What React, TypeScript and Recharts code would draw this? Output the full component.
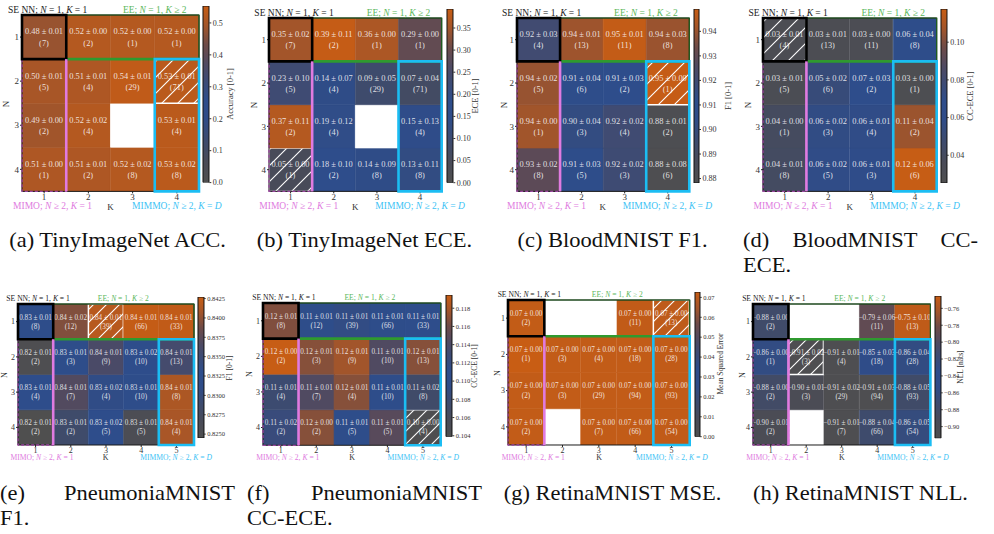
import React from 'react';
import { BarChart, Bar, XAxis, YAxis, Cell, LabelList, ReferenceArea, ReferenceLine } from 'recharts';

const SERIF = '"Liberation Serif", Tinos, "Nimbus Roman", "Noto Serif", "DejaVu Serif", "Times New Roman", Times, serif';

// ---------- categories ----------
const K4 = ['1', '2', '3', '4'];
const K5 = ['1', '2', '3', '4', '5'];
const NROWS = ['1', '2', '3', '4'];

// ---------- (a) TinyImageNet ACC ----------
const accMean = [
  [0.48, 0.52, 0.52, 0.52],
  [0.50, 0.51, 0.54, 0.53],
  [0.49, 0.52, null, 0.53],
  [0.51, 0.51, 0.52, 0.53],
];
const accStd = [
  [0.01, 0.00, 0.00, 0.00],
  [0.01, 0.01, 0.01, 0.01],
  [0.00, 0.02, null, 0.01],
  [0.00, 0.01, 0.02, 0.02],
];
const accCount = [
  [7, 2, 1, 1],
  [5, 4, 29, 71],
  [2, 4, null, 4],
  [1, 2, 8, 8],
];
const accDomain = [0, 0.553];
const accTicks = [0, 0.1, 0.2, 0.3, 0.4, 0.5];

// ---------- (b) TinyImageNet ECE ----------
const eceMean = [
  [0.35, 0.39, 0.36, 0.29],
  [0.23, 0.14, 0.09, 0.07],
  [0.37, 0.19, null, 0.15],
  [0.05, 0.18, 0.14, 0.13],
];
const eceStd = [
  [0.02, 0.11, 0.00, 0.00],
  [0.10, 0.07, 0.05, 0.04],
  [0.11, 0.12, null, 0.13],
  [0.00, 0.10, 0.09, 0.11],
];
const eceCount = [
  [7, 2, 1, 1],
  [5, 4, 29, 71],
  [2, 4, null, 4],
  [1, 2, 8, 8],
];
const eceDomain = [0, 0.393];
const eceTicks = [0, 0.05, 0.1, 0.15, 0.2, 0.25, 0.3, 0.35];

// ---------- (c) BloodMNIST F1 ----------
const bF1Mean = [
  [0.9205, 0.9405, 0.9480, 0.9400],
  [0.9395, 0.9100, 0.9105, 0.9485],
  [0.9410, 0.9015, 0.9200, 0.8810],
  [0.9290, 0.9095, 0.9195, 0.8800],
];
const bF1Std = [
  [0.03, 0.01, 0.01, 0.03],
  [0.02, 0.04, 0.03, 0.00],
  [0.00, 0.04, 0.02, 0.01],
  [0.02, 0.03, 0.02, 0.08],
];
const bF1Count = [
  [4, 13, 11, 8],
  [5, 6, 2, 1],
  [1, 3, 4, 2],
  [8, 5, 3, 6],
];
const bF1Domain = [0.8782, 0.9491];
const bF1Ticks = [0.88, 0.89, 0.9, 0.91, 0.92, 0.93, 0.94];

// ---------- (d) BloodMNIST CC-ECE ----------
const bCCMean = [
  [0.030, 0.030, 0.031, 0.064],
  [0.032, 0.052, 0.068, 0.029],
  [0.040, 0.057, 0.058, 0.106],
  [0.041, 0.058, 0.063, 0.117],
];
const bCCStd = [
  [0.01, 0.01, 0.00, 0.04],
  [0.01, 0.02, 0.03, 0.00],
  [0.00, 0.02, 0.01, 0.04],
  [0.01, 0.02, 0.01, 0.06],
];
const bCCCount = [
  [4, 13, 11, 8],
  [5, 6, 2, 1],
  [1, 3, 4, 2],
  [8, 5, 3, 6],
];
const bCCDomain = [0.0253, 0.1176];
const bCCTicks = [0.04, 0.06, 0.08, 0.1];

// ---------- (e) PneumoniaMNIST F1 ----------
const pF1Mean = [
  [0.8325, 0.8394, 0.8418, 0.8425, 0.8423],
  [0.8249, 0.8327, 0.8362, 0.8330, 0.8357],
  [0.8330, 0.8369, 0.8309, 0.8327, 0.8412],
  [0.8246, 0.8285, 0.8328, 0.8256, 0.8410],
];
const pF1Std = [
  [0.01, 0.02, 0.01, 0.01, 0.01],
  [0.01, 0.01, 0.01, 0.02, 0.01],
  [0.01, 0.01, 0.02, 0.01, 0.01],
  [0.01, 0.01, 0.02, 0.01, 0.01],
];
const pCount = [
  [8, 12, 39, 66, 33],
  [2, 3, 9, 10, 13],
  [4, 7, 4, 10, 8],
  [2, 2, 5, 5, 4],
];
const pF1Domain = [0.8245, 0.8427];
const pF1Ticks = [0.825, 0.8275, 0.83, 0.8325, 0.835, 0.8375, 0.84, 0.8425];

// ---------- (f) PneumoniaMNIST CC-ECE ----------
const pCCMean = [
  [0.1166, 0.1108, 0.1117, 0.1108, 0.1110],
  [0.1194, 0.1168, 0.1177, 0.1144, 0.1168],
  [0.1078, 0.1144, 0.1168, 0.1108, 0.1072],
  [0.1124, 0.1168, 0.1108, 0.1148, 0.1042],
];
const pCCStd = [
  [0.01, 0.01, 0.01, 0.01, 0.01],
  [0.00, 0.01, 0.01, 0.01, 0.01],
  [0.01, 0.01, 0.01, 0.01, 0.02],
  [0.02, 0.00, 0.01, 0.01, 0.00],
];
const pCCDomain = [0.1039, 0.11945];
const pCCTicks = [0.104, 0.106, 0.108, 0.11, 0.112, 0.114, 0.116, 0.118];

// ---------- (g) RetinaMNIST MSE ----------
const rMSEMean = [
  [0.0715, null, null, 0.0712, 0.0705],
  [0.0727, 0.0713, 0.0714, 0.0713, 0.0712],
  [0.0714, 0.0713, 0.0713, 0.0713, 0.0712],
  [0.0713, null, 0.0713, 0.0713, 0.0712],
];
const rMSEStd = [
  [0.00, null, null, 0.00, 0.00],
  [0.00, 0.00, 0.00, 0.00, 0.00],
  [0.00, 0.00, 0.00, 0.00, 0.00],
  [0.00, null, 0.00, 0.00, 0.00],
];
const rCount = [
  [2, null, null, 11, 13],
  [1, 3, 4, 18, 28],
  [2, 3, 29, 94, 93],
  [2, null, 7, 66, 54],
];
const rMSEDomain = [0, 0.0727];
const rMSETicks = [0, 0.01, 0.02, 0.03, 0.04, 0.05, 0.06, 0.07];

// ---------- (h) RetinaMNIST NLL ----------
const rNLLMean = [
  [-0.878, null, null, -0.790, -0.750],
  [-0.857, -0.910, -0.910, -0.852, -0.858],
  [-0.881, -0.900, -0.910, -0.910, -0.879],
  [-0.900, null, -0.910, -0.875, -0.862],
];
const rNLLStd = [
  [0.00, null, null, 0.06, 0.10],
  [0.00, 0.02, 0.01, 0.03, 0.04],
  [0.00, 0.01, 0.02, 0.03, 0.05],
  [0.01, null, 0.01, 0.04, 0.05],
];
const rNLLDomain = [-0.9138, -0.7454];
const rNLLTicks = [-0.9, -0.88, -0.86, -0.84, -0.82, -0.8, -0.78, -0.76];

// ---------- colour map ----------
const STOPS: [number, string][] = [
  [0.0, '#4f4f4f'],
  [0.12, '#494b58'],
  [0.25, '#3c4b70'],
  [0.36, '#2f4c88'],
  [0.47, '#2e4d8b'],
  [0.57, '#3c4b76'],
  [0.67, '#4f4a62'],
  [0.78, '#6e4b48'],
  [0.89, '#a3552a'],
  [1.0, '#c85d14'],
];
const hex = (h: string) => [1, 3, 5].map((i) => parseInt(h.slice(i, i + 2), 16));
function cmap(t: number) {
  const u = Math.max(0, Math.min(1, t));
  for (let i = 1; i < STOPS.length; i++) {
    if (u <= STOPS[i][0]) {
      const [t0, c0] = STOPS[i - 1];
      const [t1, c1] = STOPS[i];
      const f = (u - t0) / (t1 - t0);
      const a = hex(c0), b = hex(c1);
      const r = a.map((v, j) => Math.round(v + (b[j] - v) * f));
      return `rgb(${r[0]},${r[1]},${r[2]})`;
    }
  }
  return STOPS[STOPS.length - 1][1];
}

const fmtNum = (v: number, d: number) => (v < 0 ? '\u2212' + Math.abs(v).toFixed(d) : v.toFixed(d));

type Rect = { l: number; t: number; r: number; b: number };
type Panel = {
  id: string; cols: string[]; mean: (number | null)[][]; std: (number | null)[][]; count: (number | null)[][];
  hatch: [number, number]; dom: number[]; ticks: number[]; dec: number; cbLabel: string;
  plot: Rect; cb: Rect; cbdx: number; nx: number; row: number;
};

const PANELS: Panel[] = [
  { id: 'a', cols: K4, mean: accMean, std: accStd, count: accCount, hatch: [1, 3], dom: accDomain, ticks: accTicks, dec: 1, cbLabel: 'Accuracy [0-1]',
    plot: { l: 22, t: 15.3, r: 199, b: 191.7 }, cb: { l: 202.5, t: 5.7, r: 208.8, b: 182.3 }, cbdx: 21, nx: -16, row: 0 },
  { id: 'b', cols: K4, mean: eceMean, std: eceStd, count: eceCount, hatch: [3, 0], dom: eceDomain, ticks: eceTicks, dec: 2, cbLabel: 'ECE [0-1]',
    plot: { l: 269, t: 18.3, r: 441.7, b: 191.7 }, cb: { l: 446.7, t: 9.3, r: 453, b: 183 }, cbdx: 22, nx: -15, row: 0 },
  { id: 'c', cols: K4, mean: bF1Mean, std: bF1Std, count: bF1Count, hatch: [1, 3], dom: bF1Domain, ticks: bF1Ticks, dec: 2, cbLabel: 'F1 [0-1]',
    plot: { l: 516.7, t: 18.3, r: 689, b: 191.7 }, cb: { l: 694, t: 9, r: 699, b: 183 }, cbdx: 29, nx: -12.5, row: 0 },
  { id: 'd', cols: K4, mean: bCCMean, std: bCCStd, count: bCCCount, hatch: [0, 0], dom: bCCDomain, ticks: bCCTicks, dec: 2, cbLabel: 'CC-ECE [0-1]',
    plot: { l: 763, t: 18.3, r: 936.7, b: 191.7 }, cb: { l: 941, t: 9, r: 946.7, b: 183 }, cbdx: 23, nx: -15, row: 0 },
  { id: 'e', cols: K5, mean: pF1Mean, std: pF1Std, count: pCount, hatch: [0, 2], dom: pF1Domain, ticks: pF1Ticks, dec: 4, cbLabel: 'F1 [0-1]',
    plot: { l: 17.7, t: 304, r: 193.7, b: 445 }, cb: { l: 198.3, t: 297.3, r: 204, b: 438.3 }, cbdx: 26, nx: -12.5, row: 1 },
  { id: 'f', cols: K5, mean: pCCMean, std: pCCStd, count: pCount, hatch: [3, 4], dom: pCCDomain, ticks: pCCTicks, dec: 3, cbLabel: 'CC-ECE [0-1]',
    plot: { l: 263.3, t: 302.7, r: 441, b: 445 }, cb: { l: 446, t: 295, r: 452.3, b: 436.7 }, cbdx: 23, nx: -13.5, row: 1 },
  { id: 'g', cols: K5, mean: rMSEMean, std: rMSEStd, count: rCount, hatch: [0, 4], dom: rMSEDomain, ticks: rMSETicks, dec: 2, cbLabel: 'Mean Squared Error',
    plot: { l: 508.3, t: 300, r: 690, b: 445 }, cb: { l: 695, t: 292, r: 699.7, b: 436.7 }, cbdx: 21, nx: -10.5, row: 1 },
  { id: 'h', cols: K5, mean: rNLLMean, std: rNLLStd, count: rCount, hatch: [1, 1], dom: rNLLDomain, ticks: rNLLTicks, dec: 2, cbLabel: 'NLL [nats]',
    plot: { l: 753.3, t: 304, r: 930.7, b: 445 }, cb: { l: 935, t: 296, r: 940.7, b: 438.3 }, cbdx: 20, nx: -10, row: 1 },
];

const FS = [
  { cell: 8.4, tick: 9, anno: 9.5, cbTick: 8, cbLabel: 8.5, hatch: 16, bottom: 15 },
  { cell: 7.2, tick: 8, anno: 7.6, cbTick: 6.5, cbLabel: 7.5, hatch: 13, bottom: 13 },
];

const tnorm = (p: Panel, v: number) => (v - p.dom[0]) / (p.dom[1] - p.dom[0]);

const makeLabel = (fs: number, d1: number, d2: number) => (p: any) => {
  const v = p.value;
  if (!v) return null;
  const vb = p.viewBox && p.viewBox.width != null ? p.viewBox : p;
  const cx = vb.x + vb.width / 2;
  const cy = vb.y + vb.height / 2;
  const [a, b] = String(v).split('|');
  const st = { fontSize: fs, fontFamily: SERIF, fill: 'rgba(255,255,255,0.84)' };
  return (
    <g>
      <text x={cx} y={cy + d1} textAnchor="middle" dominantBaseline="central" {...st}>{a}</text>
      <text x={cx} y={cy + d2} textAnchor="middle" dominantBaseline="central" {...st}>{b}</text>
    </g>
  );
};

const NOFILL = { fill: 'none', fillOpacity: 0, ifOverflow: 'visible' as const };
const YW = 24, XH = 20, MT = 4, MR = 4;

function buildData(p: Panel) {
  const R = p.mean.length;
  return p.cols.map((k, c) => {
    const o: any = { k };
    for (let n = 1; n <= R; n++) {
      o['v' + n] = 1;
      const m = p.mean[n - 1][c];
      o['l' + n] = m == null ? '' : `${fmtNum(m, 2)} \u00b1 ${(p.std[n - 1][c] as number).toFixed(2)}|(${p.count[n - 1][c]})`;
    }
    return o;
  });
}

function Heatmap({ p }: { p: Panel }) {
  const fs = FS[p.row];
  const R = p.mean.length;
  const W = p.plot.r - p.plot.l;
  const H = p.plot.b - p.plot.t;
  const cellH = H / R;
  const data = buildData(p);
  const order = NROWS.slice(0, R).map((_, i) => R - i);
  const yTicks = NROWS.slice(0, R).map((_, i) => i + 0.5);
  const label = makeLabel(fs.cell, -0.115 * cellH, 0.14 * cellH);
  const axisTick = { fontSize: fs.tick, fill: '#333', fontFamily: SERIF };
  return (
    <div style={{ position: 'absolute', left: p.plot.l - YW, top: p.plot.t - MT }}>
      <BarChart width={YW + W + MR} height={MT + H + XH} data={data} margin={{ top: MT, right: MR, bottom: 0, left: 0 }} barCategoryGap={0} barGap={0}>
        <XAxis dataKey="k" type="category" height={XH} interval={0} axisLine={false} tickSize={2} tickMargin={0} tickLine={{ stroke: '#222' }} tick={axisTick} />
        <YAxis type="number" domain={[0, R]} allowDataOverflow ticks={yTicks} interval={0} width={YW} axisLine={false} tickSize={2} tickMargin={1}
          tickLine={{ stroke: '#222' }} tick={axisTick} tickFormatter={(v: number) => NROWS[R - 1 - Math.round(v - 0.5)]} />
        {order.map((n) => (
          <Bar key={n} dataKey={'v' + n} stackId="s" isAnimationActive={false}>
            {data.map((_, c) => {
              const m = p.mean[n - 1][c];
              const isH = p.hatch[0] === n - 1 && p.hatch[1] === c;
              const col = m == null ? '#ffffff' : cmap(tnorm(p, m));
              return (
                <Cell key={c} fill={isH ? `url(#hatch-${p.id})` : col} stroke={isH ? '#ffffff' : col} strokeWidth={isH ? 1.5 : 0.6} />
              );
            })}
            <LabelList dataKey={'l' + n} content={label} />
          </Bar>
        ))}
      </BarChart>
    </div>
  );
}

// group outlines drawn in an overlay chart with the same plot geometry, so they sit above the cells
function GroupOverlay({ p }: { p: Panel }) {
  const R = p.mean.length;
  const C = p.cols.length;
  const W = p.plot.r - p.plot.l;
  const H = p.plot.b - p.plot.t;
  const cellH = H / R;
  const eps = 1.3 / cellH;
  const first = p.cols[0];
  const second = p.cols[1];
  const last = p.cols[C - 1];
  const data = p.cols.map((k) => ({ k }));
  return (
    <div style={{ position: 'absolute', left: p.plot.l - YW, top: p.plot.t - MT, pointerEvents: 'none' }}>
      <BarChart width={YW + W + MR} height={MT + H + XH} data={data} margin={{ top: MT, right: MR, bottom: XH, left: YW }} barCategoryGap={0} barGap={0}>
        <XAxis dataKey="k" type="category" hide />
        <YAxis type="number" domain={[0, R]} allowDataOverflow hide />
        <ReferenceArea y1={0} y2={R} {...NOFILL} stroke="#1a1a1a" strokeWidth={1} />
        <ReferenceArea x1={second} x2={last} y1={R - 1} y2={R} {...NOFILL} stroke="#1f5f1f" strokeWidth={1.2} />
        <ReferenceArea x1={second} x2={last} y1={R - 1 - eps} y2={R - 1 + eps} fill="#2f9a2f" fillOpacity={1} stroke="none" ifOverflow="visible" />
        <ReferenceArea x1={first} x2={first} y1={0} y2={R - 1} {...NOFILL} stroke="#9b45a0" strokeWidth={1.3} strokeDasharray="3 2" />
        <ReferenceLine segment={[{ x: second, y: 0 }, { x: second, y: R - 1 }]} position="start" stroke="#e07be0" strokeWidth={2.6} ifOverflow="visible" />
        <ReferenceArea x1={last} x2={last} y1={0} y2={R - 1} {...NOFILL} stroke="#1bbdf3" strokeWidth={2.6} />
        <ReferenceArea x1={first} x2={first} y1={R - 1} y2={R} {...NOFILL} stroke="#000000" strokeWidth={2.6} />
      </BarChart>
    </div>
  );
}

function Colorbar({ p }: { p: Panel }) {
  const fs = FS[p.row];
  const w = p.cb.r - p.cb.l;
  const h = p.cb.b - p.cb.t;
  const AW = 40, m = 7;
  return (
    <div style={{ position: 'absolute', left: p.cb.l - 1, top: p.cb.t - m }}>
      <BarChart width={1 + w + AW} height={h + 2 * m} data={[{ c: 'c', v: p.dom }]} margin={{ top: m, bottom: m, left: 1, right: 0 }} barCategoryGap={0}>
        <XAxis dataKey="c" hide />
        <YAxis orientation="right" type="number" domain={p.dom} allowDataOverflow ticks={p.ticks} interval={0} width={AW} axisLine={false}
          tickSize={2} tickMargin={1.5} tickLine={{ stroke: '#333' }} tick={{ fontSize: fs.cbTick, fill: '#333', fontFamily: SERIF }}
          tickFormatter={(v: number) => fmtNum(v, p.dec)} />
        <Bar dataKey="v" fill="url(#cbgrad)" stroke="#111" strokeWidth={1} isAnimationActive={false} />
      </BarChart>
    </div>
  );
}

function Txt({ x, y, size, color, rot, children }: any) {
  return (
    <div style={{ position: 'absolute', left: x, top: y, transform: `translate(-50%, -50%)${rot ? ` rotate(${rot}deg)` : ''}`, whiteSpace: 'nowrap',
      fontSize: size, color, fontFamily: SERIF, lineHeight: 1 }}>
      {children}
    </div>
  );
}

function Annotations({ p }: { p: Panel }) {
  const fs = FS[p.row];
  const C = p.cols.length;
  const W = p.plot.r - p.plot.l;
  const kx = (k: number) => p.plot.l + ((k - 0.5) / C) * W;
  const topY = p.plot.t - 4.8;
  const botY = p.plot.b + fs.bottom;
  const midY = (p.plot.t + p.plot.b) / 2;
  return (
    <>
      <Txt x={kx(1.08)} y={topY} size={fs.anno} color="#222">SE NN; <i>N</i> = 1, <i>K</i> = 1</Txt>
      <Txt x={kx(3.5)} y={topY} size={fs.anno} color="#5cb85c">EE; <i>N</i> = 1, <i>K</i> ≥ 2</Txt>
      <Txt x={kx(1.19)} y={botY} size={fs.anno} color="#e07be0">MIMO; <i>N</i> ≥ 2, <i>K</i> = 1</Txt>
      <Txt x={kx(C)} y={botY} size={fs.anno} color="#3cc3f5">MIMMO; <i>N</i> ≥ 2, <i>K</i> = <i>D</i></Txt>
      <Txt x={(p.plot.l + p.plot.r) / 2} y={botY} size={fs.tick} color="#333">K</Txt>
      <Txt x={p.plot.l + p.nx} y={midY} size={fs.tick} color="#333" rot={-90}>N</Txt>
      <Txt x={p.cb.r + p.cbdx} y={(p.cb.t + p.cb.b) / 2} size={fs.cbLabel} color="#333" rot={-90}>{p.cbLabel}</Txt>
    </>
  );
}

const COL_START = [0, 247, 495, 743];
const COL_W = 235;
const CAP_SX = 1.125;
const CAP_FS = 20;
const CAP_BASE = [[246.7, 272], [500, 525]];

function CapText({ x, y, anchor, children }: any) {
  return (
    <text transform={`translate(${x} ${y}) scale(${CAP_SX} 1)`} textAnchor={anchor} fontSize={CAP_FS} fontFamily={SERIF} fill="#111">{children}</text>
  );
}

function Captions() {
  const mid = (i: number) => COL_START[i] + COL_W / 2;
  const end = (i: number) => COL_START[i] + COL_W;
  const [r0, r0b] = CAP_BASE[0];
  const [r1, r1b] = CAP_BASE[1];
  return (
    <svg width={994} height={534} style={{ position: 'absolute', left: 0, top: 0, pointerEvents: 'none' }}>
      <CapText x={mid(0)} y={r0} anchor="middle">(a) TinyImageNet ACC.</CapText>
      <CapText x={mid(1)} y={r0} anchor="middle">(b) TinyImageNet ECE.</CapText>
      <CapText x={mid(2)} y={r0} anchor="middle">(c) BloodMNIST F1.</CapText>
      <CapText x={COL_START[3]} y={r0} anchor="start">(d)</CapText>
      <CapText x={855} y={r0} anchor="middle">BloodMNIST</CapText>
      <CapText x={end(3)} y={r0} anchor="end">CC-</CapText>
      <CapText x={COL_START[3]} y={r0b} anchor="start">ECE.</CapText>
      <CapText x={COL_START[0]} y={r1} anchor="start">(e)</CapText>
      <CapText x={end(0)} y={r1} anchor="end">PneumoniaMNIST</CapText>
      <CapText x={COL_START[0]} y={r1b} anchor="start">F1.</CapText>
      <CapText x={COL_START[1]} y={r1} anchor="start">(f)</CapText>
      <CapText x={end(1)} y={r1} anchor="end">PneumoniaMNIST</CapText>
      <CapText x={COL_START[1]} y={r1b} anchor="start">CC-ECE.</CapText>
      <CapText x={mid(2)} y={r1} anchor="middle">(g) RetinaMNIST MSE.</CapText>
      <CapText x={mid(3)} y={r1} anchor="middle">(h) RetinaMNIST NLL.</CapText>
    </svg>
  );
}

function Defs() {
  return (
    <svg width={0} height={0} style={{ position: 'absolute', left: 0, top: 0 }}>
      <defs>
        <linearGradient id="cbgrad" x1="0" y1="1" x2="0" y2="0">
          {STOPS.map(([t, c]) => <stop key={t} offset={t} stopColor={c} />)}
        </linearGradient>
        {PANELS.map((p) => {
          const s = FS[p.row].hatch;
          const m = p.mean[p.hatch[0]][p.hatch[1]] as number;
          return (
            <pattern key={p.id} id={`hatch-${p.id}`} patternUnits="userSpaceOnUse" width={s} height={s}>
              <rect width={s} height={s} fill={cmap(tnorm(p, m))} />
              <path d={`M0,${s} L${s},0 M${-s / 2},${s / 2} L${s / 2},${-s / 2} M${s / 2},${1.5 * s} L${1.5 * s},${s / 2}`} stroke="#ffffff" strokeWidth={1.1} />
            </pattern>
          );
        })}
      </defs>
    </svg>
  );
}

export default function App() {
  return (
    <div style={{ position: 'absolute', left: 0, top: 0, width: 994, height: 534, background: '#ffffff', overflow: 'hidden', fontFamily: SERIF }}>
      <Defs />
      {PANELS.map((p) => <Heatmap key={'h' + p.id} p={p} />)}
      {PANELS.map((p) => <GroupOverlay key={'o' + p.id} p={p} />)}
      {PANELS.map((p) => <Colorbar key={'c' + p.id} p={p} />)}
      {PANELS.map((p) => <Annotations key={'t' + p.id} p={p} />)}
      <Captions />
    </div>
  );
}
